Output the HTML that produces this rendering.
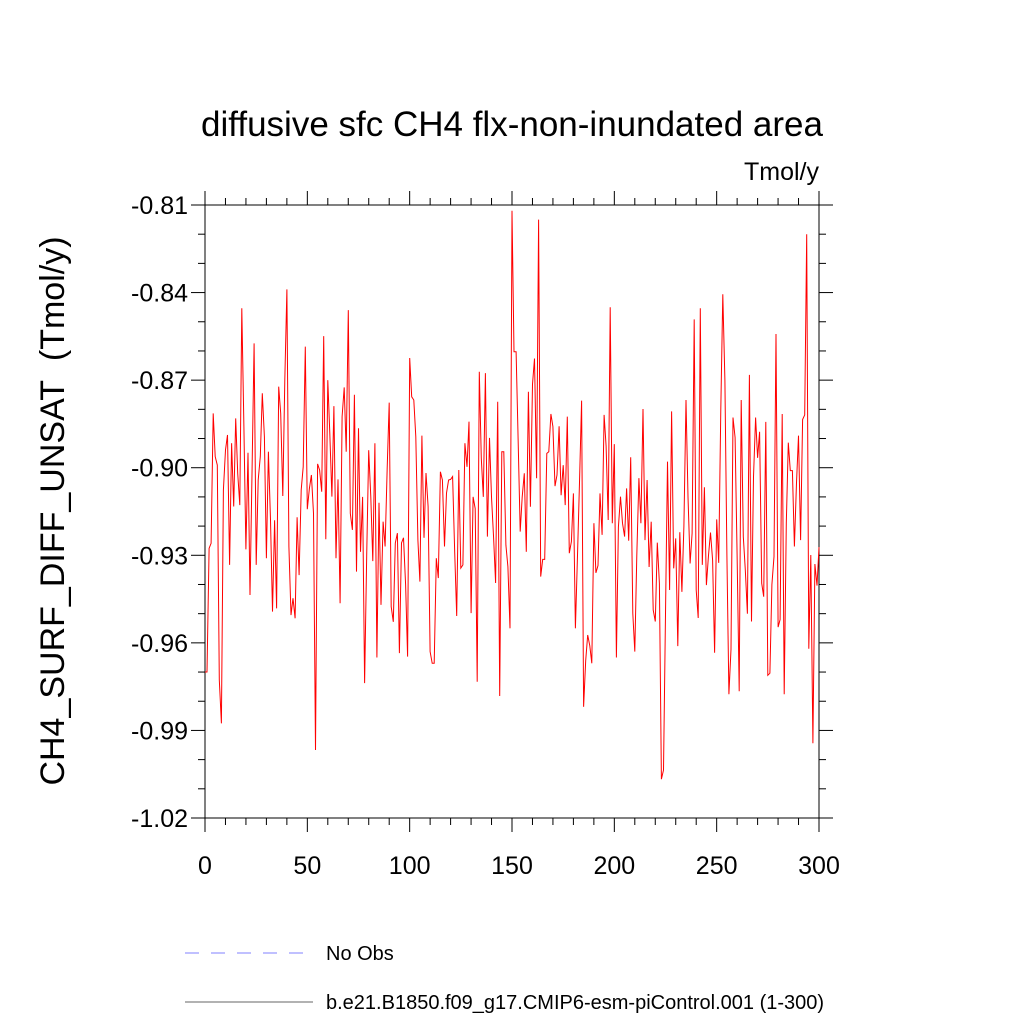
<!DOCTYPE html>
<html><head><meta charset="utf-8"><style>
body{margin:0;background:#fff;font-family:"Liberation Sans",sans-serif}
</style></head><body>
<svg id="chart" width="1024" height="1024" xmlns="http://www.w3.org/2000/svg" font-family="Liberation Sans, sans-serif">
<rect width="1024" height="1024" fill="#fff"/>
<text x="512" y="136" text-anchor="middle" font-size="35">diffusive sfc CH4 flx-non-inundated area</text>
<text x="819" y="180" text-anchor="end" font-size="25">Tmol/y</text>
<text transform="translate(64,511) rotate(-90)" text-anchor="middle" font-size="34">CH4_SURF_DIFF_UNSAT&#160; (Tmol/y)</text>
<g id="axes"></g>
<g id="series"></g>
<line x1="185" y1="953" x2="315" y2="953" stroke="#8080ff" stroke-width="1" stroke-dasharray="14,12"/>
<text x="326" y="960" font-size="20">No Obs</text>
<line x1="185" y1="1002" x2="313" y2="1002" stroke="#666" stroke-width="1"/>
<text x="326" y="1009" font-size="20">b.e21.B1850.f09_g17.CMIP6-esm-piControl.001 (1-300)</text>
</svg>
<script>
const yTicks=[-0.81,-0.84,-0.87,-0.90,-0.93,-0.96,-0.99,-1.02];
const yTickLabels=["-0.81","-0.84","-0.87","-0.90","-0.93","-0.96","-0.99","-1.02"];
const xTicks=[0,50,100,150,200,250,300];
const values=[
-0.970,-0.970,-0.9276,-0.9259,-0.8814,-0.8962,-0.8991,-0.9727,-0.9876,-0.9076,
-0.8939,-0.8888,-0.9333,-0.8916,-0.9133,-0.8831,-0.9019,-0.9128,-0.8454,-0.886,
-0.928,-0.8949,-0.9436,-0.90,-0.8574,-0.9333,-0.9042,-0.8962,-0.8745,-0.8894,
-0.931,-0.8945,-0.9179,-0.9493,-0.918,-0.9482,-0.8722,-0.8814,-0.9097,-0.87,
-0.8389,-0.927,-0.9505,-0.9447,-0.9516,-0.917,-0.9368,-0.9076,-0.8997,-0.8585,
-0.9142,-0.9071,-0.9025,-0.9156,-0.9967,-0.8987,-0.9008,-0.9082,-0.8549,-0.9245,
-0.87,-0.8882,-0.9099,-0.8789,-0.931,-0.904,-0.9464,-0.8825,-0.8725,-0.8945,
-0.846,-0.9156,-0.9213,-0.875,-0.9356,-0.8865,-0.9288,-0.910,-0.9738,-0.93,
-0.894,-0.91,-0.932,-0.8916,-0.965,-0.912,-0.947,-0.9185,-0.927,-0.90,
-0.8777,-0.9476,-0.9528,-0.9258,-0.9224,-0.9635,-0.9258,-0.924,-0.94,-0.9647,
-0.8624,-0.8757,-0.8768,-0.8894,-0.9248,-0.939,-0.889,-0.924,-0.9018,-0.9133,
-0.963,-0.967,-0.967,-0.931,-0.9378,-0.9014,-0.9042,-0.927,-0.9087,-0.9042,
-0.904,-0.903,-0.929,-0.9508,-0.9008,-0.9344,-0.9333,-0.8916,-0.8997,-0.8842,
-0.9498,-0.910,-0.914,-0.9733,-0.8671,-0.8968,-0.91,-0.8676,-0.9236,-0.8898,
-0.910,-0.924,-0.9395,-0.8774,-0.9782,-0.8945,-0.8945,-0.9265,-0.9339,-0.955,
-0.812,-0.8603,-0.8603,-0.89,-0.9219,-0.91,-0.9019,-0.9288,-0.874,-0.9134,
-0.8714,-0.8626,-0.9036,-0.815,-0.9373,-0.9314,-0.9314,-0.8951,-0.8945,-0.8816,
-0.8859,-0.9063,-0.9025,-0.8858,-0.9094,-0.8991,-0.9128,-0.8825,-0.9293,-0.9253,
-0.9088,-0.955,-0.93,-0.905,-0.877,-0.9819,-0.966,-0.9573,-0.961,-0.967,
-0.919,-0.936,-0.9335,-0.9088,-0.923,-0.8819,-0.8926,-0.9179,-0.845,-0.919,
-0.8919,-0.965,-0.9203,-0.9099,-0.919,-0.9236,-0.9071,-0.925,-0.8964,-0.9499,
-0.963,-0.93,-0.9036,-0.919,-0.8799,-0.9248,-0.9042,-0.934,-0.9185,-0.9487,
-0.9527,-0.9257,-0.9396,-1.0067,-1.0036,-0.95,-0.8979,-0.9419,-0.8807,-0.9345,
-0.9242,-0.9611,-0.9221,-0.9425,-0.92,-0.8768,-0.91,-0.9328,-0.9225,-0.8492,
-0.9419,-0.9515,-0.8454,-0.9333,-0.9067,-0.9402,-0.93,-0.9222,-0.9316,-0.9634,
-0.9177,-0.9326,-0.88,-0.8406,-0.87,-0.93,-0.9776,-0.9622,-0.8828,-0.8897,
-0.93,-0.9766,-0.8768,-0.9236,-0.935,-0.95,-0.8682,-0.9527,-0.9031,-0.8828,
-0.8966,-0.8877,-0.9396,-0.9442,-0.8843,-0.9711,-0.9704,-0.94,-0.9305,-0.8542,
-0.9546,-0.952,-0.8816,-0.9776,-0.919,-0.8914,-0.901,-0.901,-0.927,-0.9051,
-0.889,-0.9248,-0.8835,-0.8819,-0.82,-0.962,-0.9299,-0.9944,-0.933,-0.9404,
-0.9272];
const X0=205,X1=819,Y0=205,Y1=818;
const xs=v=>X0+(v-0)/(300-0)*(X1-X0);
const ys=v=>Y0+(-0.81-v)/(0.21)*(Y1-Y0);
const NS="http://www.w3.org/2000/svg";
const ax=document.getElementById('axes');
function mk(tag,attrs,parent){const e=document.createElementNS(NS,tag);for(const k in attrs)e.setAttribute(k,attrs[k]);parent.appendChild(e);return e;}
const frame=mk('rect',{x:X0,y:Y0,width:X1-X0,height:Y1-Y0,fill:'none',stroke:'#000','stroke-width':1},ax);


yTicks.forEach((t,i)=>{
  const y=ys(t);
  const l1=mk('line',{x1:X0-14,y1:y,x2:X0,y2:y,stroke:'#000'},ax);
  
  
  mk('line',{x1:X1,y1:y,x2:X1+14,y2:y,stroke:'#000'},ax);
  const tx=mk('text',{x:X0-17,y:y+9,'text-anchor':'end','font-size':25},ax);
  tx.textContent=yTickLabels[i];
  
  
  if(i<yTicks.length-1){for(let k=1;k<3;k++){const ym=ys(t-0.01*k);mk('line',{x1:X0-7,y1:ym,x2:X0,y2:ym,stroke:'#000'},ax);mk('line',{x1:X1,y1:ym,x2:X1+7,y2:ym,stroke:'#000'},ax);}}
});
xTicks.forEach((t,i)=>{
  const x=xs(t);
  const l=mk('line',{x1:x,y1:Y1,x2:x,y2:Y1+14,stroke:'#000'},ax);
  
  
  mk('line',{x1:x,y1:Y0-14,x2:x,y2:Y0,stroke:'#000'},ax);
  const tx=mk('text',{x:x,y:874,'text-anchor':'middle','font-size':25},ax);
  tx.textContent=String(t);
  
  
  if(i<xTicks.length-1){for(let k=1;k<5;k++){const xm=xs(t+10*k);mk('line',{x1:xm,y1:Y1,x2:xm,y2:Y1+7,stroke:'#000'},ax);mk('line',{x1:xm,y1:Y0-7,x2:xm,y2:Y0,stroke:'#000'},ax);}}
});
const pts=values.map((v,i)=>xs(i).toFixed(1)+','+ys(v).toFixed(1)).join(' ');
const pl=mk('polyline',{points:pts,fill:'none',stroke:'#ff0000','stroke-width':1},document.getElementById('series'));


</script>
</body></html>
